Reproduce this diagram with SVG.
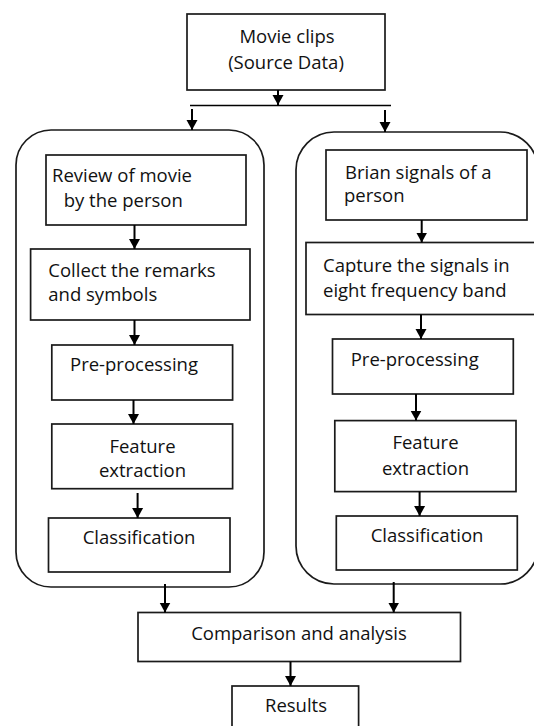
<svg xmlns="http://www.w3.org/2000/svg" width="534" height="726" viewBox="0 0 534 726">
<style>
  .box{fill:#fff;stroke:#1a1a1a;stroke-width:1.7}
  .cont{fill:none;stroke:#1a1a1a;stroke-width:1.7}
  .t{font-family:"Open Sans","Liberation Sans",sans-serif;font-size:18.5px;fill:#111}
  .m{text-anchor:middle}
  .c{stroke:#000;stroke-width:2;fill:none}
</style>
<defs>
  <marker id="ah" markerUnits="userSpaceOnUse" markerWidth="12" markerHeight="12" viewBox="0 0 12 12" refX="10" refY="6" orient="auto">
    <path d="M0,0.5 L10,6 L0,11.5 Z" fill="#000"/>
  </marker>
</defs>
<rect width="534" height="726" fill="#fff"/>
<g id="left-container"><rect class="cont" x="16" y="130" width="248" height="457" rx="35" ry="35"/></g>
<g id="right-container"><rect class="cont" x="296" y="132" width="242" height="452" rx="38" ry="38"/></g>
<g id="movie-clips"><rect class="box" x="187" y="14" width="198" height="76"/>
  <text class="t m" x="287" y="43">Movie clips</text>
  <text class="t m" x="286" y="69">(Source Data)</text></g>
<g id="review"><rect class="box" x="46" y="155" width="200" height="70"/>
  <text class="t" x="52" y="182">Review of movie</text>
  <text class="t" x="63.7" y="206.5">by the person</text></g>
<g id="collect"><rect class="box" x="30.6" y="249" width="219.4" height="71"/>
  <text class="t" x="48.3" y="277">Collect the remarks</text>
  <text class="t" x="48.3" y="301">and symbols</text></g>
<g id="preproc-left"><rect class="box" x="51.8" y="345" width="180.8" height="55"/>
  <text class="t" x="70" y="370.5">Pre-processing</text></g>
<g id="feature-left"><rect class="box" x="51.8" y="424" width="180.8" height="64.7"/>
  <text class="t m" x="142.5" y="452.5">Feature</text>
  <text class="t m" x="142.5" y="477">extraction</text></g>
<g id="class-left"><rect class="box" x="48.5" y="518" width="181.5" height="54"/>
  <text class="t" x="82.7" y="544">Classification</text></g>
<g id="brian"><rect class="box" x="326" y="150" width="201" height="70"/>
  <text class="t" x="345" y="178.5">Brian signals of a</text>
  <text class="t" x="344" y="202">person</text></g>
<g id="capture"><rect class="box" x="306" y="242.5" width="240" height="72"/>
  <text class="t" x="323" y="272">Capture the signals in</text>
  <text class="t" x="323" y="296.5">eight frequency band</text></g>
<g id="preproc-right"><rect class="box" x="332.5" y="339" width="180.8" height="55"/>
  <text class="t" x="350.7" y="365.5">Pre-processing</text></g>
<g id="feature-right"><rect class="box" x="334.8" y="420.6" width="181.2" height="71"/>
  <text class="t m" x="425.5" y="449">Feature</text>
  <text class="t m" x="425.5" y="474.5">extraction</text></g>
<g id="class-right"><rect class="box" x="336.3" y="516" width="181" height="54"/>
  <text class="t" x="370.7" y="541.5">Classification</text></g>
<g id="comparison"><rect class="box" x="138" y="612.5" width="322.5" height="49"/>
  <text class="t m" x="299" y="639.5">Comparison and analysis</text></g>
<g id="results"><rect class="box" x="232" y="686" width="126.6" height="50"/>
  <text class="t m" x="296" y="712">Results</text></g>
<g id="connectors">
  <line class="c" x1="278" y1="90" x2="278" y2="105" marker-end="url(#ah)"/>
  <line class="c" x1="190" y1="105.5" x2="391" y2="105.5" style="stroke-width:1.6"/>
  <line class="c" x1="192" y1="109" x2="192" y2="130" marker-end="url(#ah)"/>
  <line class="c" x1="385" y1="110" x2="385" y2="132" marker-end="url(#ah)"/>
  <line class="c" x1="134.5" y1="225" x2="134.5" y2="249" marker-end="url(#ah)"/>
  <line class="c" x1="134.5" y1="320" x2="134.5" y2="345" marker-end="url(#ah)"/>
  <line class="c" x1="133.5" y1="400" x2="133.5" y2="424" marker-end="url(#ah)"/>
  <line class="c" x1="137.6" y1="493" x2="137.6" y2="518" marker-end="url(#ah)"/>
  <line class="c" x1="421.7" y1="220" x2="421.7" y2="242.5" marker-end="url(#ah)"/>
  <line class="c" x1="421" y1="314.5" x2="421" y2="339" marker-end="url(#ah)"/>
  <line class="c" x1="416" y1="394" x2="416" y2="420.6" marker-end="url(#ah)"/>
  <line class="c" x1="419.6" y1="491.6" x2="419.6" y2="516" marker-end="url(#ah)"/>
  <line class="c" x1="165" y1="584" x2="165" y2="612.5" marker-end="url(#ah)"/>
  <line class="c" x1="393.7" y1="582" x2="393.7" y2="612.5" marker-end="url(#ah)"/>
  <line class="c" x1="290.5" y1="661.5" x2="290.5" y2="686" marker-end="url(#ah)"/>
</g>
</svg>
